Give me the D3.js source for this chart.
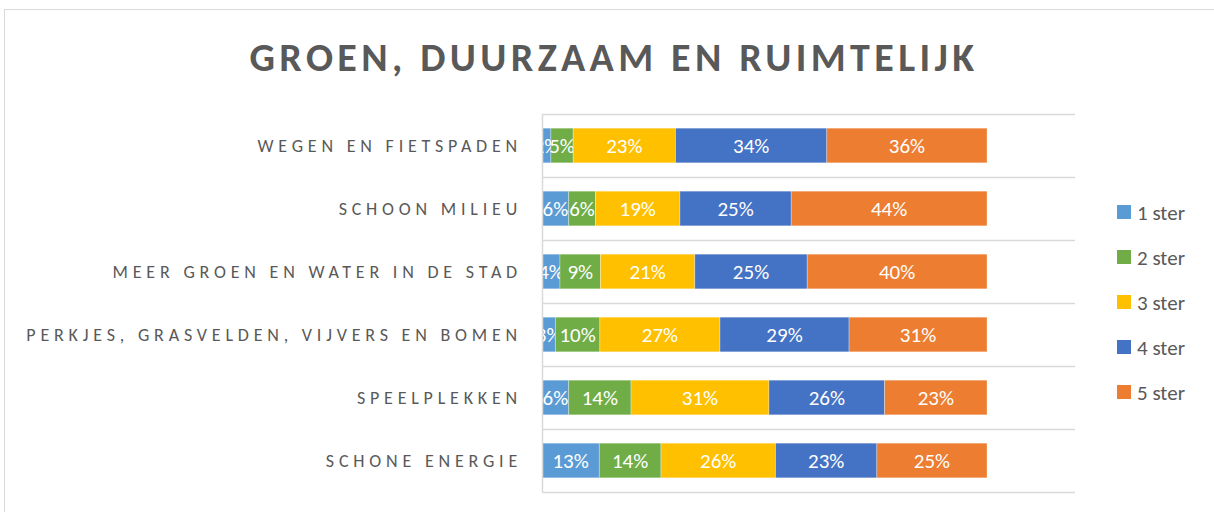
<!DOCTYPE html>
<html>
<head>
<meta charset="utf-8">
<script src="https://cdn.jsdelivr.net/npm/d3@7"></script>
<style>
  body { margin: 0; background: #fff; }
  text { font-family: Calibri, Carlito, "Open Sans", sans-serif; }
</style>
</head>
<body>
<div id="chart-area"></div>
<script>
// data
var categories = ["Wegen en fietspaden", "Schoon milieu", "Meer groen en water in de stad",
                  "Perkjes, grasvelden, vijvers en bomen", "Speelplekken", "Schone energie"];
var seriesNames = ["1 ster", "2 ster", "3 ster", "4 ster", "5 ster"];
var ster1 = [2, 6, 4, 3, 6, 13];
var ster2 = [5, 6, 9, 10, 14, 14];
var ster3 = [23, 19, 21, 27, 31, 26];
var ster4 = [34, 25, 25, 29, 26, 23];
var ster5 = [36, 44, 40, 31, 23, 25];
var colors = ["#5B9BD5", "#70AD47", "#FFC000", "#4472C4", "#ED7D31"];

var W = 1214, H = 512;
var margin = { left: 542, right: 227, top: 114, bottom: 20 };
var width = 987 - margin.left,
    height = 492 - margin.top;

var svg = d3.select("#chart-area")
  .append("svg")
    .attr("width", W)
    .attr("height", H);

// chart border
svg.append("rect")
  .attr("x", 4.5).attr("y", 9.5)
  .attr("width", W + 10).attr("height", H + 10)
  .attr("fill", "none")
  .attr("stroke", "#d9d9d9");

// title
svg.append("text")
  .attr("x", 614)
  .attr("y", 71)
  .attr("text-anchor", "middle")
  .attr("font-size", "40px")
  .attr("font-weight", "bold")
  .attr("letter-spacing", "4.4px")
  .attr("fill", "#595959")
  .text("GROEN, DUURZAAM EN RUIMTELIJK");

var table = categories.map(function(c, i) {
  return { cat: c, "1 ster": ster1[i], "2 ster": ster2[i], "3 ster": ster3[i], "4 ster": ster4[i], "5 ster": ster5[i] };
});

var stack = d3.stack().keys(seriesNames).offset(d3.stackOffsetExpand);
var series = stack(table);

var x = d3.scaleLinear().domain([0, 1]).range([0, width]);
var y = d3.scaleBand().domain(categories).range([0, height]).paddingInner(0.45).paddingOuter(0.225);
var color = d3.scaleOrdinal().domain(seriesNames).range(colors);

var g = svg.append("g")
  .attr("transform", "translate(" + margin.left + ", " + margin.top + ")");

// horizontal gridlines between categories
var gridY = d3.range(categories.length + 1).map(function(i) { return i * height / categories.length; });
g.selectAll(".grid")
  .data(gridY)
  .enter().append("line")
    .attr("x1", 0).attr("x2", 533)
    .attr("y1", function(d) { return Math.round(d) + 0.5; })
    .attr("y2", function(d) { return Math.round(d) + 0.5; })
    .attr("stroke", "#d9d9d9")
    .attr("stroke-width", 1.5);

// bars
var layers = g.selectAll(".layer")
  .data(series)
  .enter().append("g")
    .attr("fill", function(d) { return color(d.key); });

layers.selectAll("rect")
  .data(function(d) { return d; })
  .enter().append("rect")
    .attr("x", function(d) { return x(d[0]); })
    .attr("y", function(d) { return y(d.data.cat); })
    .attr("width", function(d) { return x(d[1]) - x(d[0]); })
    .attr("height", y.bandwidth())
    .attr("stroke", "#fff")
    .attr("stroke-opacity", 0.4)
    .attr("stroke-width", 0.75);

// data labels
layers.selectAll(".lbl")
  .data(function(d) { return d.map(function(p) { return { p: p, key: d.key }; }); })
  .enter().append("text")
    .attr("x", function(d) { return (x(d.p[0]) + x(d.p[1])) / 2; })
    .attr("y", function(d) { return y(d.p.data.cat) + y.bandwidth() / 2; })
    .attr("dy", "0.36em")
    .attr("text-anchor", "middle")
    .attr("font-size", "21px")
    .attr("fill", "#fff")
    .text(function(d) { return d.p.data[d.key] + "%"; });

// y axis line
g.append("line")
  .attr("x1", 0.5).attr("x2", 0.5)
  .attr("y1", 0).attr("y2", height)
  .attr("stroke", "#d9d9d9")
  .attr("stroke-width", 1.5);

// category labels
g.selectAll(".cat")
  .data(categories)
  .enter().append("text")
    .attr("x", -20)
    .attr("y", function(d) { return y(d) + y.bandwidth() / 2; })
    .attr("dy", "0.36em")
    .attr("text-anchor", "end")
    .attr("font-size", "18px")
    .attr("letter-spacing", "4.8px")
    .attr("fill", "#595959")
    .text(function(d) { return d.toUpperCase(); });

// legend
var legend = svg.append("g")
  .attr("transform", "translate(1117, 212)");

var li = legend.selectAll(".li")
  .data(seriesNames)
  .enter().append("g")
    .attr("transform", function(d, i) { return "translate(0," + (i * 45) + ")"; });

li.append("rect")
  .attr("x", 0).attr("y", -7)
  .attr("width", 14).attr("height", 14)
  .attr("fill", function(d) { return color(d); });

li.append("text")
  .attr("x", 20)
  .attr("dy", "0.36em")
  .attr("font-size", "21px")
  .attr("fill", "#595959")
  .text(function(d) { return d; });
</script>
</body>
</html>
